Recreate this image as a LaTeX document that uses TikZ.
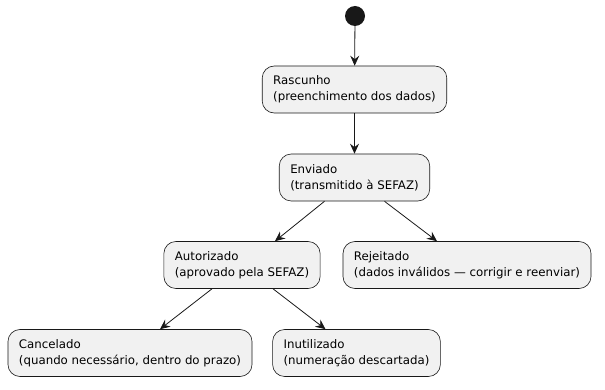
\documentclass[tikz,border=0pt]{standalone}
\usepackage{fontspec}
\setmainfont{DejaVu Sans}
\usetikzlibrary{arrows.meta}
\definecolor{stfill}{HTML}{F1F1F1}
\definecolor{stline}{HTML}{181818}
\tikzset{
  st/.style={draw=stline, fill=stfill, rounded corners=12pt, line width=0.6pt,
    align=left, font=\fontsize{11.8}{16}\selectfont, inner xsep=11pt,
    minimum height=47pt, text=black},
  tr/.style={draw=stline, line width=0.8pt, -{Stealth[length=10pt,width=9pt,inset=3.5pt]}}
}
\begin{document}
\begin{tikzpicture}[x=1pt,y=-1pt]
\useasboundingbox (0,0) rectangle (605,390);
\node[circle, fill=stline, minimum size=20pt, inner sep=0pt] (start) at (355,16) {};
\node[st] (ras) at (354.5,89.5) {Rascunho\\(preenchimento dos dados)};
\node[st] (env) at (354.5,177.5) {Enviado\\(transmitido à SEFAZ)};
\node[st] (aut) at (242,265) {Autorizado\\(aprovado pela SEFAZ)};
\node[st] (rej) at (467,265) {Rejeitado\\(dados inválidos — corrigir e reenviar)};
\node[st] (can) at (130,353) {Cancelado\\(quando necessário, dentro do prazo)};
\node[st] (inu) at (356.5,353) {Inutilizado\\(numeração descartada)};
\draw[tr] (start) -- (ras);
\draw[tr] (ras) -- (env);
\draw[tr] ([xshift=-30pt]env.south) -- ([xshift=33pt]aut.north);
\draw[tr] ([xshift=30pt]env.south) -- ([xshift=-30pt]rej.north);
\draw[tr] ([xshift=-30pt]aut.south) -- ([xshift=30pt]can.north);
\draw[tr] ([xshift=31pt]aut.south) -- ([xshift=-31pt]inu.north);
\end{tikzpicture}
\end{document}
